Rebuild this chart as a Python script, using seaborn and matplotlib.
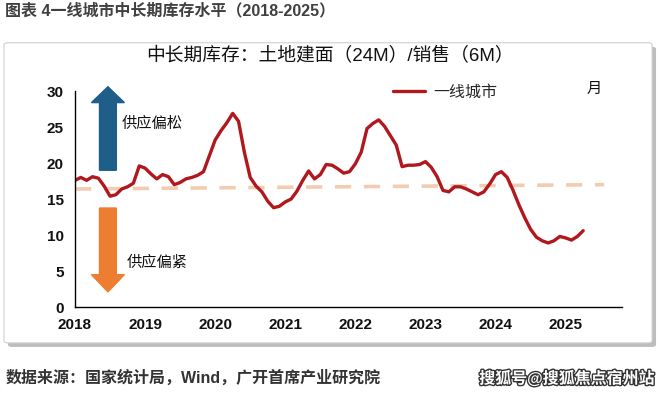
import matplotlib
matplotlib.use("Agg")
import matplotlib.pyplot as plt
import matplotlib.patheffects as pe
from matplotlib.patches import FancyBboxPatch
import numpy as np
import pandas as pd
import seaborn as sns

# ---- data ----
start_year = 2018
values = [17.6, 18.0, 17.6, 18.1, 17.9, 16.8, 15.4, 15.6, 16.4, 16.7, 17.2, 19.6,
          19.3, 18.5, 17.8, 18.4, 18.1, 17.0, 17.3, 17.8, 18.0, 18.3, 18.8, 21.0,
          23.2, 24.5, 25.6, 26.9, 25.8, 21.5, 18.0, 16.8, 16.0, 14.7, 13.8, 14.0,
          14.6, 15.0, 16.1, 17.6, 18.9, 17.8, 18.4, 19.8, 19.7, 19.2, 18.6, 18.8,
          19.9, 21.5, 24.8, 25.5, 26.0, 25.1, 23.8, 22.5, 19.5, 19.7, 19.7, 19.8,
          20.2, 19.4, 18.1, 16.2, 16.0, 16.7, 16.7, 16.4, 16.0, 15.6, 16.0, 17.1,
          18.4, 18.8, 18.0, 16.2, 14.2, 12.4, 10.8, 9.7, 9.2, 8.9, 9.2, 9.8,
          9.6, 9.3, 9.8, 10.6]
series_name = "一线城市"
trend_x = [2018.0, 2025.55]
trend_y = [16.4, 17.0]
year_ticks = [2018, 2019, 2020, 2021, 2022, 2023, 2024, 2025]
y_ticks = [0, 5, 10, 15, 20, 25, 30]

months = np.arange(len(values))
df = pd.DataFrame({"t": start_year + months / 12.0, "v": values})
trend_df = pd.DataFrame({"t": trend_x, "v": trend_y})

sns.set_theme(style="white")
plt.rcParams['font.family'] = ['Liberation Sans', 'Noto Sans CJK SC', 'DejaVu Sans']
plt.rcParams['axes.unicode_minus'] = False

fig = plt.figure(figsize=(6.6, 3.96), dpi=100)
fig.patch.set_facecolor("white")

# frame with shadow
shadow = FancyBboxPatch((0.012, 0.124), 0.982, 0.758, boxstyle="round,pad=0,rounding_size=0.006",
                        transform=fig.transFigure, facecolor="#bdbdbd", edgecolor="none", zorder=0)
frame = FancyBboxPatch((0.006, 0.134), 0.982, 0.758, boxstyle="round,pad=0,rounding_size=0.006",
                       transform=fig.transFigure, facecolor="white", edgecolor="#d0d0d0", lw=0.8, zorder=0.5)
fig.patches.extend([shadow, frame])

ax = fig.add_axes([0.1136, 0.2247, 0.8284, 0.5453])
ax.set_facecolor("none")
ax.set_zorder(2)

sns.lineplot(data=trend_df, x="t", y="v", ax=ax, color="#F2CBB0", lw=2.6,
             dashes=False, legend=False)
ax.lines[-1].set_dashes([4.5, 3.5])
sns.lineplot(data=df, x="t", y="v", ax=ax, color="#B0181E", lw=2.4, label=series_name)

ax.set_xlim(2018, 2025.8)
ax.set_ylim(0, 30)
ax.set_xticks(year_ticks)
ax.set_xticklabels([str(y) for y in year_ticks], fontsize=11, fontweight="bold")
ax.set_yticks(y_ticks)
ax.set_yticklabels([str(y) for y in y_ticks], fontsize=11, fontweight="bold")
ax.set_xlabel("")
ax.set_ylabel("")
for s in ["top", "right"]:
    ax.spines[s].set_visible(False)
for s in ["left", "bottom"]:
    ax.spines[s].set_color("black")
    ax.spines[s].set_linewidth(1.0)
ax.tick_params(axis="x", direction="out", length=4, width=1, color="black", pad=4, labelcolor="#111111")
ax.tick_params(axis="y", length=0, pad=8, labelcolor="#111111")
ax.grid(False)

# arrows
ax.arrow(2018.47, 19.0, 0, 11.6 - 2.2, width=0.24, head_width=0.47, head_length=2.2,
         length_includes_head=False, color="#1F5E88", clip_on=False, zorder=3)
ax.arrow(2018.47, 13.75, 0, -(11.65 - 2.4), width=0.24, head_width=0.47, head_length=2.4,
         length_includes_head=False, color="#ED7D31", clip_on=False, zorder=3)
ax.text(2018.67, 25.5, "供应偏松", fontsize=11, va="center", ha="left", color="#111111")
ax.text(2018.74, 6.1, "供应偏紧", fontsize=11, va="center", ha="left", color="#111111")

leg = ax.legend(loc="center left", bbox_to_anchor=(0.570, 0.995), frameon=False, fontsize=11.5,
                handlelength=2.0, handletextpad=0.5, borderaxespad=0)
fig.text(587 / 660, 1 - 89 / 396, "月", fontsize=11, ha="left", va="center", color="#111111")

# titles and notes
fig.text(0.008, 1 - 11 / 396, "图表 4一线城市中长期库存水平（2018-2025）", fontsize=11.5,
         fontweight="bold", color="#404040", ha="left", va="center")
fig.text(0.5, 1 - 56 / 396, "中长期库存：土地建面（24M）/销售（6M）", fontsize=13.5,
         color="#111111", ha="center", va="center")
fig.text(0.008, 1 - 378 / 396, "数据来源：国家统计局，Wind，广开首席产业研究院", fontsize=11.5,
         fontweight="bold", color="#333333", ha="left", va="center")
fig.text(0.992, 1 - 378 / 396, "搜狐号@搜狐焦点宿州站", fontsize=11.5, color="white",
         ha="right", va="center", fontweight="bold",
         path_effects=[pe.withStroke(linewidth=2, foreground="#333333")])

fig.savefig("out.png", dpi=100, facecolor="white")
